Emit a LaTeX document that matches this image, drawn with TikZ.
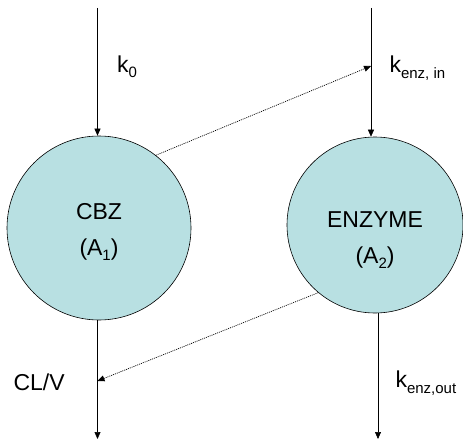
\documentclass[tikz,border=0pt]{standalone}
\usepackage{fontspec}
\setmainfont{Liberation Sans}
\usetikzlibrary{arrows.meta,positioning,calc}
\definecolor{pool}{HTML}{B8E0E2}
\newcommand{\lowsub}[1]{\raisebox{-0.45ex}{\fontsize{15}{15}\selectfont #1}}

\begin{document}
\begin{tikzpicture}[x=1pt,y=1pt,font=\fontsize{23}{27}\selectfont,
   comp/.style={circle,draw=black,fill=pool,line width=0.6pt,minimum size=#1,inner sep=0pt},
   txt/.style={align=center,inner sep=0pt},
   flow/.style={-{Triangle[length=7pt,width=6pt]},line width=0.6pt},
   link/.style={-{Triangle[length=7pt,width=6pt]},dash pattern=on 1pt off 1pt,line width=0.7pt}]
  \useasboundingbox (0,0) rectangle (463,-441);
  \node[comp=184pt] (cbz) at (99,-228) {};
  \node[comp=176pt] (enz) at (375,-225) {};
  \node[txt] (cbzt) at ([yshift=-4pt]cbz.center) {CBZ\\[9pt](A\lowsub{1})};
  \node[txt] (enzt) at ([yshift=-15pt]enz.center) {ENZYME\\[9pt](A\lowsub{2})};
  % free ends of the rate arrows
  \coordinate (in1) at (97.5,-8);
  \coordinate (in2) at (371,-8);
  \coordinate (out1) at (97.5,-439);
  \coordinate (out2) at (378,-439);
  \coordinate (hit2) at (371,-66);
  \coordinate (hit1) at (97.5,-381);
  \draw[flow] (in1) -- (in1 |- cbz.north);
  \draw[flow] (in2) -- (in2 |- enz.north);
  \draw[flow] (out1 |- cbz.south) -- (out1);
  \draw[flow] (out2 |- enz.south) -- (out2);
  \draw[link] (cbz.52) -- (hit2);
  \draw[link] (enz.230) -- (hit1);
  % rate labels
  \node (k0) at (127,-67) {k\lowsub{0}};
  \node[anchor=west] (kin) at (386,-68) {k\lowsub{enz, in}};
  \node[anchor=west] (cl) at (10,-382) {CL/V};
  \node[anchor=west] (kout) at (392,-383) {k\lowsub{enz,out}};
\end{tikzpicture}
\end{document}
